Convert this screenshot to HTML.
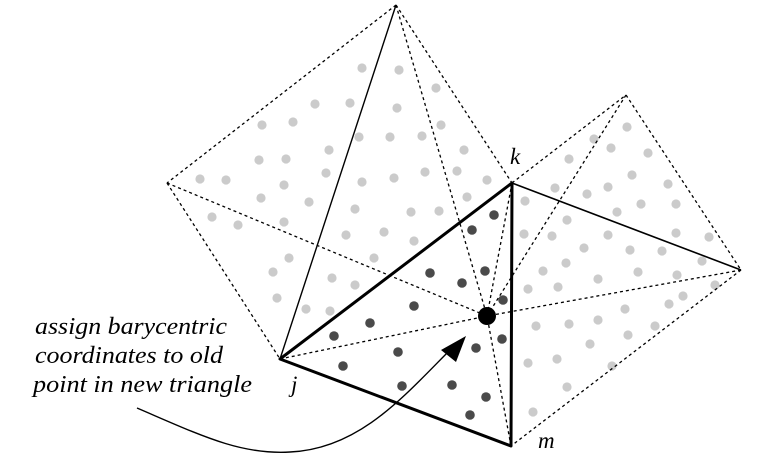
<!DOCTYPE html>
<html><head><meta charset="utf-8"><style>
html,body{margin:0;padding:0;background:#fff;width:770px;height:468px;overflow:hidden}
svg{display:block}
.t{font-family:"Liberation Serif","DejaVu Serif",serif;font-style:italic;fill:#000}
</style></head><body>
<svg id="fig" width="770" height="468" viewBox="0 0 770 468">
<g id="dots"></g>
<g fill="none" stroke="#000" stroke-width="1.3" stroke-dasharray="3,3">
<line x1="396" y1="5" x2="167" y2="183"/>
<line x1="167" y1="183" x2="280" y2="359"/>
<line x1="167" y1="183" x2="487" y2="316"/>
<line x1="396" y1="5" x2="512" y2="183"/>
<line x1="396" y1="5" x2="487" y2="316"/>
<line x1="512" y1="183" x2="626" y2="95"/>
<line x1="626" y1="95" x2="741" y2="270"/>
<line x1="741" y1="270" x2="511" y2="446"/>
<line x1="626" y1="95" x2="487" y2="316"/>
<line x1="741" y1="270" x2="487" y2="316"/>
<line x1="280" y1="359" x2="487" y2="316"/>
<line x1="512" y1="183" x2="487" y2="316"/>
<line x1="511" y1="446" x2="487" y2="316"/>
</g>
<g fill="none" stroke="#000">
<line x1="396" y1="5" x2="280" y2="359" stroke-width="1.4"/>
<line x1="512" y1="183" x2="741" y2="270" stroke-width="1.6"/>
<polygon points="280,359 512,183 511,446" stroke-width="3" stroke-linejoin="round"/>
</g>
<circle cx="487" cy="316" r="9" fill="#000"/>
<path d="M137,408 C200,435 240,455 290,452 C360,449 405,395 452,348" fill="none" stroke="#000" stroke-width="1.4"/>
<polygon points="466,336 441,350 456,362" fill="#000"/>
<text class="t" font-family="Liberation Serif, DejaVu Serif, serif" font-style="italic" x="510" y="164" font-size="23">k</text>
<text class="t" font-family="Liberation Serif, DejaVu Serif, serif" font-style="italic" x="291" y="392" font-size="23">j</text>
<text class="t" font-family="Liberation Serif, DejaVu Serif, serif" font-style="italic" x="538" y="448" font-size="23">m</text>
<g class="t" font-family="Liberation Serif, DejaVu Serif, serif" font-style="italic" font-size="24">
<text x="35" y="334" textLength="192" lengthAdjust="spacingAndGlyphs">assign barycentric</text>
<text x="35" y="363" textLength="188" lengthAdjust="spacingAndGlyphs">coordinates to old</text>
<text x="33" y="392" textLength="219" lengthAdjust="spacingAndGlyphs">point in new triangle</text>
</g>
</svg>
<script>
const grayDots=[[362,68],[399,70],[436,88],[315,104],[350,103],[397,108],[262,125],[293,122],[441,125],[359,137],[390,137],[422,136],[464,150],[329,150],[259,160],[286,159],[326,173],[362,182],[394,178],[425,172],[457,171],[487,180],[200,179],[226,180],[284,185],[261,198],[309,202],[355,209],[411,212],[439,211],[467,197],[525,201],[212,217],[238,225],[284,222],[346,235],[384,232],[524,234],[414,241],[289,258],[273,272],[332,278],[355,285],[374,258],[277,298],[306,309],[330,311],
[555,188],[587,194],[608,187],[632,175],[668,184],[641,204],[676,204],[567,220],[617,212],[552,236],[608,235],[676,233],[709,237],[584,248],[630,250],[662,251],[702,261],[543,271],[566,263],[598,279],[638,272],[677,275],[715,285],[528,289],[558,287],[683,296],[669,304],[625,309],[536,326],[569,324],[598,320],[655,326],[628,335],[590,344],[528,363],[557,359],[612,366],[567,387],[533,412],
[627,127],[594,139],[611,148],[648,153],[569,159]];
const darkDots=[[494,215],[472,230],[430,273],[462,283],[485,271],[503,300],[414,306],[370,323],[334,336],[398,352],[476,348],[502,339],[343,366],[402,386],[452,385],[486,397],[470,415]];
const g=document.getElementById('dots');
const NS='http://www.w3.org/2000/svg';
grayDots.forEach(p=>{const c=document.createElementNS(NS,'circle');
c.setAttribute('cx',p[0]);c.setAttribute('cy',p[1]);c.setAttribute('r',4.6);c.setAttribute('fill','#cbcbcb');


g.appendChild(c);});
darkDots.forEach(p=>{const c=document.createElementNS(NS,'circle');
c.setAttribute('cx',p[0]);c.setAttribute('cy',p[1]);c.setAttribute('r',4.8);c.setAttribute('fill','#4a4a4a');


g.appendChild(c);});
</script>
</body></html>
